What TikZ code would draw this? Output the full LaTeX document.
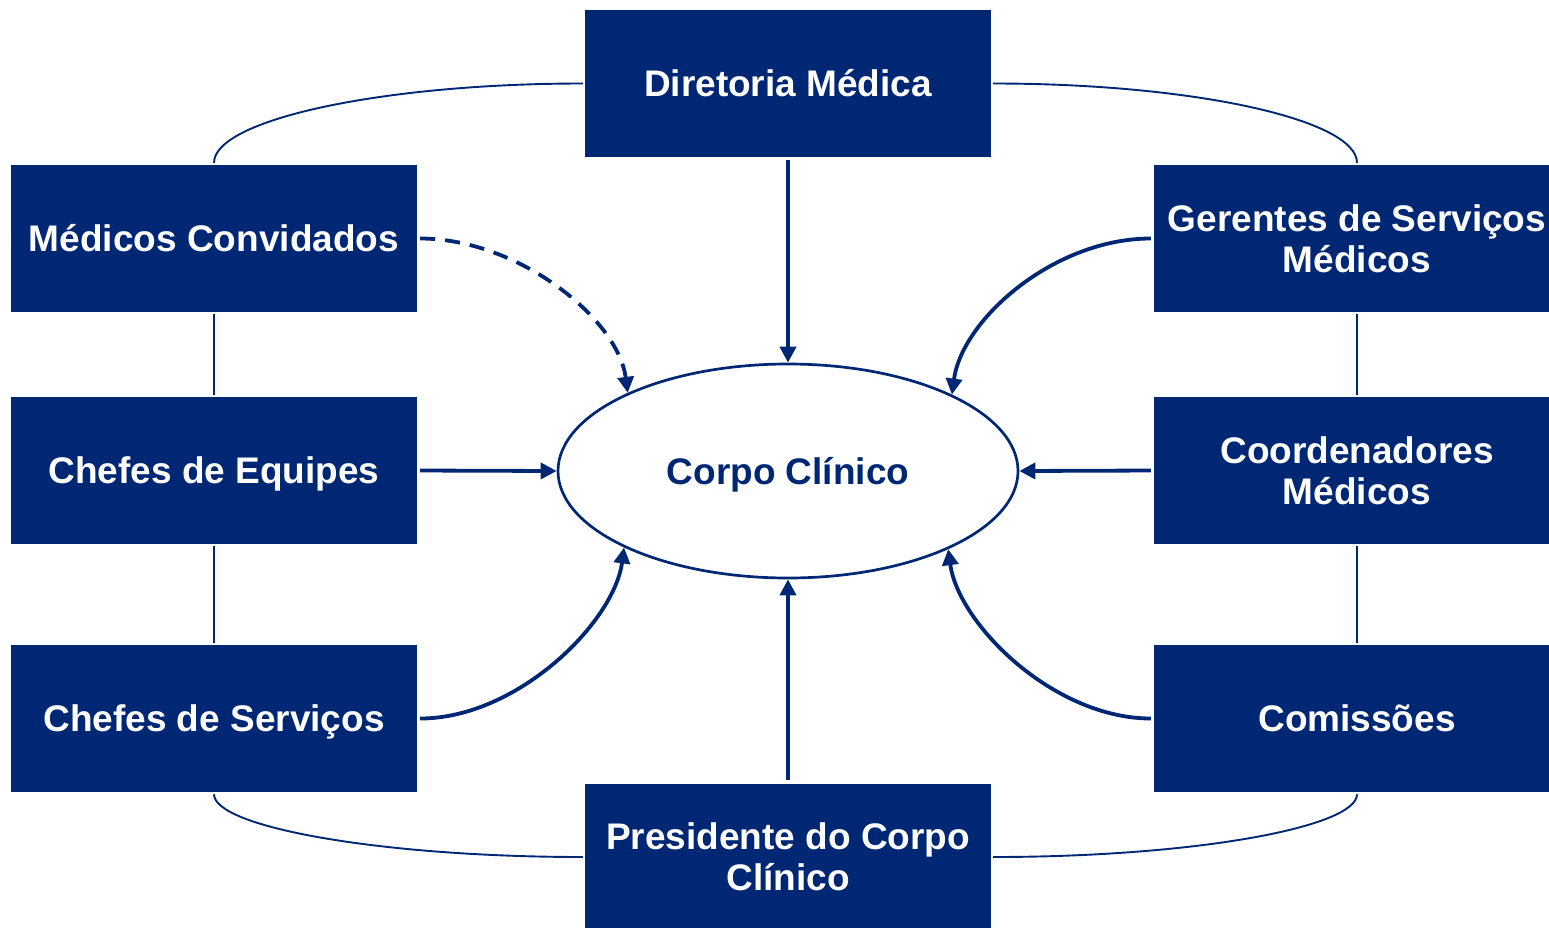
\documentclass[tikz,border=0pt]{standalone}
\usepackage{fontspec}
\setmainfont{Liberation Sans}
\usetikzlibrary{shapes.geometric,arrows.meta}
\definecolor{navy}{RGB}{0,39,116}
\tikzset{
  box/.style={fill=navy, text=white, minimum width=406pt, minimum height=147pt,
    inner sep=0pt, align=center, font=\bfseries\fontsize{37}{41}\selectfont},
  one/.style={text height=26.5pt, text depth=0pt},
  thin/.style={draw=navy, line width=1.9pt, shorten <=2pt, shorten >=2pt},
  arr/.style={draw=navy, line width=3.8pt, shorten <=3pt,
    -{Triangle[length=16pt,width=16pt]}},
  dsh/.style={arr, dash pattern=on 15pt off 10pt},
}
\begin{document}
\begin{tikzpicture}[x=1pt,y=-1pt]
\useasboundingbox (0,0) rectangle (1549,927);
\node[box,one] (dm) at (788,83.5) {Diretoria Médica};
\node[box,one] (mc) at (214,238.5) {Médicos Convidados};
\node[box,one] (ce) at (214,470.5) {Chefes de Equipes};
\node[box,one] (cs) at (214,718.5) {Chefes de Serviços};
\node[box] (ge) at (1357,238.5) {Gerentes de Serviços\\Médicos};
\node[box] (cm) at (1357,470.5) {Coordenadores\\Médicos};
\node[box,one] (co) at (1357,718.5) {Comissões};
\node[box] (pc) at (788,857) {Presidente do Corpo\\Clínico};
\node[ellipse, draw=navy, line width=2.7pt, minimum width=460pt, minimum height=214pt,
  inner sep=0pt, one, text=navy, font=\bfseries\fontsize{37}{41}\selectfont] (cc) at (788,471) {Corpo Clínico};
% thin connectors
\draw[thin] (dm.west) .. controls +(-203,0) and +(0,-45) .. (mc.north);
\draw[thin] (dm.east) .. controls +(203,0) and +(0,-45) .. (ge.north);
\draw[thin] (cs.south) .. controls +(0,35) and +(-203,0) .. (pc.west);
\draw[thin] (co.south) .. controls +(0,35) and +(203,0) .. (pc.east);
\draw[thin] (mc.south) -- (ce.north);
\draw[thin] (ce.south) -- (cs.north);
\draw[thin] (ge.south) -- (cm.north);
\draw[thin] (cm.south) -- (co.north);
% arrows
\draw[arr] (dm.south) -- (cc.north);
\draw[arr] (pc.north) -- (cc.south);
\draw[arr] (ce.east) -- (cc.west);
\draw[arr] (cm.west) -- (cc.east);
\draw[dsh] (mc.east) .. controls +(100,0) and +(-10,-75) .. (cc.154.4);
\draw[arr] (ge.west) .. controls +(-100,0) and +(10,-75) .. (cc.25.6);
\draw[arr] (cs.east) .. controls +(100,0) and +(-10,75) .. (cc.205.6);
\draw[arr] (co.west) .. controls +(-100,0) and +(10,75) .. (cc.334.4);
\end{tikzpicture}
\end{document}
